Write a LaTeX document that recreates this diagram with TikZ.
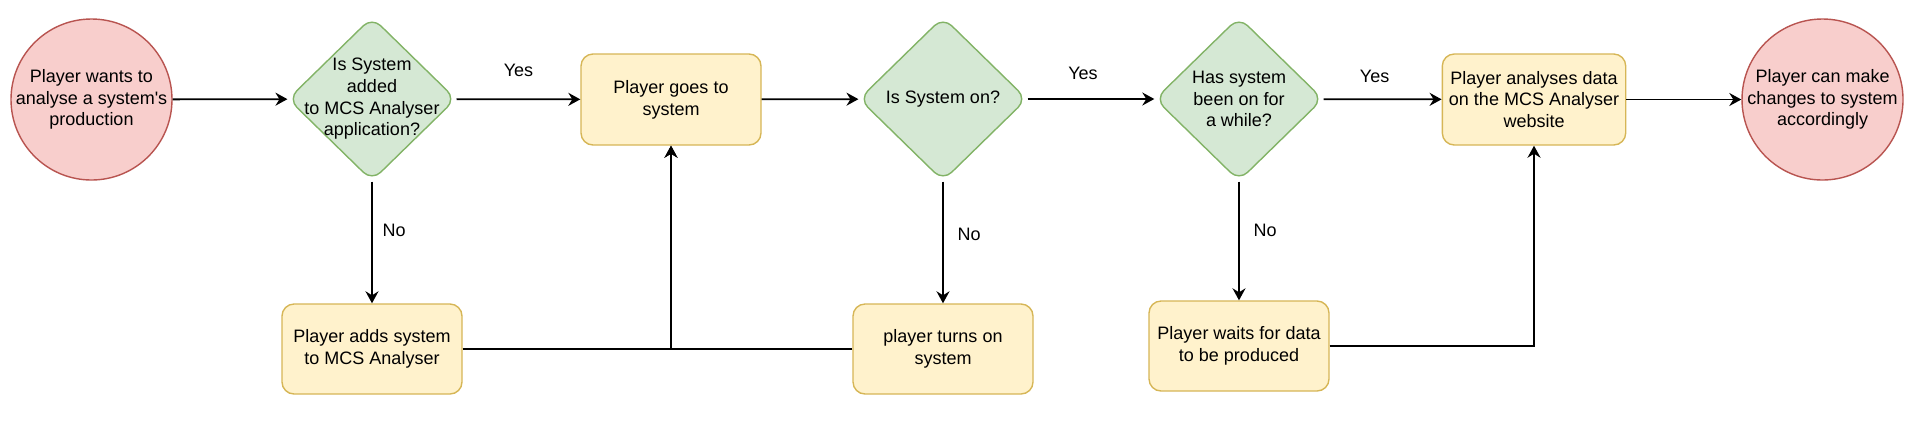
\documentclass[tikz,border=0pt]{standalone}
\usepackage{fontspec}
\setmainfont{Liberation Sans}
\usetikzlibrary{arrows.meta}
\usetikzlibrary{shapes.geometric}

\definecolor{endfill}{HTML}{F8CECC}
\definecolor{enddraw}{HTML}{B85450}
\definecolor{askfill}{HTML}{D5E8D4}
\definecolor{askdraw}{HTML}{82B366}
\definecolor{dofill}{HTML}{FFF2CC}
\definecolor{dodraw}{HTML}{D6B656}

\begin{document}
\begin{tikzpicture} [x=.5pt, y=-.5pt, font=\fontsize{9}{10.85}\selectfont,
 endpoint/.style={circle, draw=enddraw, fill=endfill, line width=.7pt, minimum size=80.5pt, inner sep=0, label={[align=center]center:#1}},
 ask/.style={diamond, draw=askdraw, fill=askfill, line width=.7pt, minimum width=84pt, minimum height=82pt, inner sep=0, rounded corners=6pt, label={[align=center]center:#1}},
 dobox/.style={rectangle, draw=dodraw, fill=dofill, line width=.7pt, rounded corners=6pt, minimum width=90pt, minimum height=45.5pt, align=center},
 flow/.style={black, line width=.9pt, -{Stealth[length=6pt, width=6.5pt, inset=2pt]}},
 yes/.style={midway, yshift=#1},
 no/.style={right, xshift=#1}]
\useasboundingbox (0,0) rectangle (1914,435);

\node[endpoint={Player wants to\\analyse a system\textquotesingle s\\production}] (want) at (91.5,99.5) {};
\node[ask={Is System\\added\\to MCS Analyser\\application?}] (added) at (372,99) {};
\node[dobox] (goes) at (671,99.5) {Player goes to\\system};
\node[ask={Is System on?}] (on) at (943,99) {};
\node[ask={Has system\\been on for\\a while?}] (while) at (1239,99) {};
\node[dobox] (analyses) at (1534,99.5) {Player analyses data\\on the MCS Analyser\\website};
\node[endpoint={Player can make\\changes to system\\accordingly}] (change) at (1822.5,99.5) {};

\node[dobox, minimum height=45pt] (adds) at (372,349) {Player adds system\\to MCS Analyser};
\node[dobox, minimum height=45pt] (turns) at (943,349) {player turns on\\system};
\node[dobox, minimum height=45pt] (waits) at (1239,346) {Player waits for data\\to be produced};

\draw[flow] (want) -- (added);
\draw[flow] (added) -- (goes) node[yes=14.5pt] {Yes};
\draw[flow] (goes) -- (on);
\draw[flow] (on) -- (while) node[yes=13pt, xshift=-4pt] {Yes};
\draw[flow] (while) -- (analyses) node[yes=11.5pt, xshift=-4pt] {Yes};
\draw[flow] (analyses) -- (change);

\draw[flow] (added) -- (adds) node[pos=.4, no=1.5pt] {No};
\draw[flow] (on) -- (turns) node[pos=.43, no=3.5pt] {No};
\draw[flow] (while) -- (waits) node[pos=.41, no=3.5pt] {No};

\draw[flow] (adds) -| (goes);
\draw[flow] (turns) -| (goes);
\draw[flow] (waits) -| (analyses);
\end{tikzpicture}
\end{document}
